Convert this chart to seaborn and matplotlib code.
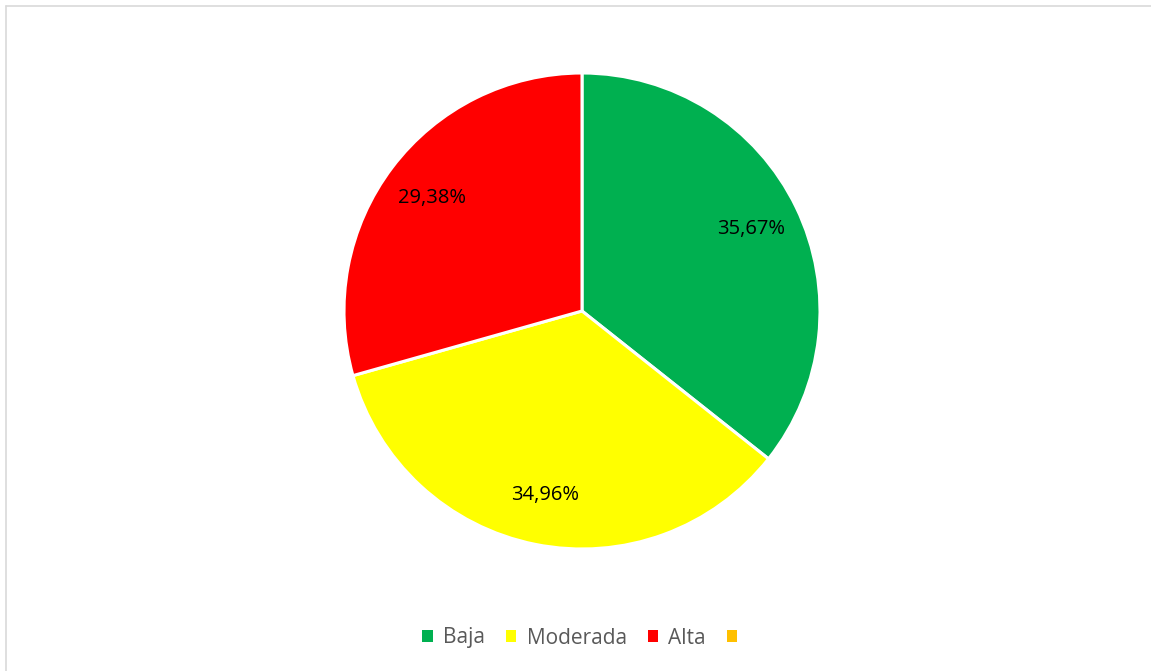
import matplotlib
matplotlib.use("Agg")
import matplotlib.pyplot as plt
from matplotlib.patches import Patch
from matplotlib.lines import Line2D
import seaborn as sns

categories = ["Baja", "Moderada", "Alta", ""]
shares = [35.67, 34.96, 29.38, 0.0]
colors = ["#00B050", "#FFFF00", "#FF0000", "#FFC000"]

sns.set_theme(style="white")
plt.rcParams["font.family"] = ["Open Sans", "DejaVu Sans"]

W, H = 1151, 671
fig = plt.figure(figsize=(W / 100, H / 100), dpi=100)
fig.patch.set_facecolor("white")

# frame lines of the chart area (top and left)
fig.add_artist(Line2D([6 / W, 1.01], [1 - 6 / H, 1 - 6 / H], transform=fig.transFigure,
                      color="#D9D9D9", lw=1.2))
fig.add_artist(Line2D([6 / W, 6 / W], [-0.01, 1 - 6 / H], transform=fig.transFigure,
                      color="#D9D9D9", lw=1.2))

cx, cy, r = 582, 311, 238
ax = fig.add_axes([(cx - r) / W, 1 - (cy + r) / H, 2 * r / W, 2 * r / H])

vals = [v for v in shares if v > 0]
cols = [c for v, c in zip(shares, colors) if v > 0]


def fmt(p):
    return f"{p:.2f}%".replace(".", ",")


wedges, _, autotexts = ax.pie(
    vals, colors=cols, startangle=90, counterclock=False, radius=1.0,
    autopct=fmt, pctdistance=0.79,
    wedgeprops=dict(edgecolor="white", linewidth=2.2),
    textprops=dict(fontsize=14.5, color="black"),
)
ax.set_xlim(-1.0, 1.0)
ax.set_ylim(-1.0, 1.0)
ax.set_aspect("equal")
ax.axis("off")

handles = [Patch(facecolor=c, edgecolor="none") for c in colors]
fig.legend(handles, categories, loc="center", bbox_to_anchor=(585 / W, 1 - 638 / H),
           ncol=4, frameon=False, fontsize=15, labelcolor="#595959",
           handlelength=0.5, handleheight=0.5, handletextpad=0.5, columnspacing=1.0)

fig.savefig("out.png", dpi=100, facecolor="white")
